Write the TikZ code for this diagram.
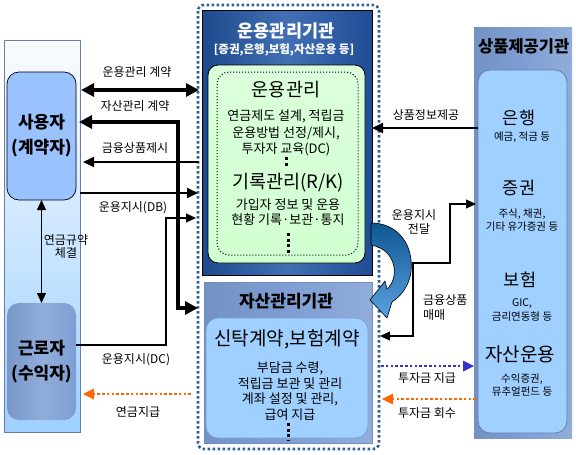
\documentclass[tikz,border=0pt]{standalone}
\usepackage{fontspec}
\setmainfont{Noto Sans CJK KR}
\usetikzlibrary{arrows.meta}
\newcommand\myfs[1]{\fontsize{#1}{#1}\selectfont}
\definecolor{dkblue}{HTML}{2256A6}
\definecolor{steel}{HTML}{7E9ED3}
\definecolor{ltblue}{HTML}{9FD0FF}
\definecolor{dotblue}{HTML}{2E5E9C}
\definecolor{orng}{HTML}{FF6600}
\definecolor{vblue}{HTML}{3333CC}
\definecolor{arrdark}{HTML}{0D5793}
\definecolor{arrlight}{HTML}{5AA2E0}
\begin{document}
\begin{tikzpicture}[x=1pt,y=-1pt,
  box/.style={inner sep=0pt, outer sep=0pt},
  lbl/.style={inner sep=0pt, font=\myfs{12}},
  small/.style={inner sep=0pt, font=\myfs{13}, align=center},
  tiny/.style={inner sep=0pt, font=\myfs{10.5}, align=center},
  bigarr/.style={line width=3.6pt, line join=miter, -{Triangle[length=13pt,width=13pt]}},
  bigboth/.style={line width=3.6pt, line join=miter, {Triangle[length=13pt,width=13pt]}-{Triangle[length=13pt,width=13pt]}},
  midarr/.style={line width=1.8pt, -{Triangle[length=11pt,width=10pt]}},
  thinarr/.style={line width=1.1pt, -{Triangle[length=10pt,width=9pt]}},
  thinboth/.style={line width=1.1pt, {Triangle[length=10pt,width=9pt]}-{Triangle[length=10pt,width=9pt]}},
  dotarr/.style={line width=2.6pt, dash pattern=on 2.6pt off 2.2pt, -{Triangle[length=11pt,width=11pt,line width=0pt]}},
  vdots/.style={line width=3pt, dash pattern=on 3pt off 2.5pt}
]
\useasboundingbox (0,0) rectangle (576,455);
\fill[white] (0,0) rectangle (576,455);

% ---------------- left column ----------------
\node[box, minimum width=76pt, minimum height=392pt, top color=ltblue!95!black!5, middle color=ltblue!25, bottom color=ltblue, draw=steel!80!black, line width=0.8pt] (leftpanel) at (42,236) {};
\node[box, minimum width=69pt, minimum height=128pt, rounded corners=12pt, fill=ltblue!90!blue!90, draw=black, line width=0.7pt, align=center, font=\bfseries\myfs{17}] (user) at (41.5,136) {사용자\\[8pt](계약자)};
\node[box, minimum width=69pt, minimum height=117pt, rounded corners=12pt, left color=steel!95!black, right color=steel, middle color=steel!85!white, align=center, font=\bfseries\myfs{17}] (worker) at (41.5,361.5) {근로자\\[8pt](수익자)};
\draw[thinboth] (user.south) -- (worker.north);
\node[lbl, align=center, font=\myfs{12}] (rule) at (66,247) {연금규약\\[1pt]체결};

% ---------------- centre ----------------
\draw[dotblue, line width=2.6pt, dash pattern=on 2.6pt off 2.4pt, rounded corners=6pt] (198,5) rectangle (379,449);
\node[box, minimum width=170pt, minimum height=265pt, left color=dkblue!85!black, right color=dkblue!90!black, middle color=dkblue!85!white, draw=black, line width=0.8pt] (mgmt) at (287,142.5) {};
\node[inner sep=0pt, text=white, font=\bfseries\myfs{17.5}] (mgmttitle) at (286,31) {운용관리기관};
\node[inner sep=0pt, text=white, font=\bfseries\myfs{11.5}] (mgmtsub) at (284,50) {[증권,은행,보험,자산운용 등]};
\node[box, minimum width=157pt, minimum height=198pt, rounded corners=10pt, top color=green!14, middle color=green!5, bottom color=green!18, draw=black, line width=0.9pt] (green) at (286.5,164) {};
\draw[black, line width=1pt, dotted, rounded corners=12pt] (217,72) rectangle (358,255);
\node[inner sep=0pt, font=\myfs{18.5}] (t1) at (286,90) {운용관리};
\node[small] (t2) at (286,133) {연금제도 설계, 적립금\\[2pt]운용방법 선정/제시,\\[2pt]투자자 교육(DC)};
\draw[vdots] (286,157) -- (286,168);
\node[inner sep=0pt, font=\myfs{18.5}] (t3) at (288,183) {기록관리(R/K)};
\node[small] (t4) at (288,212) {가입자 정보 및 운용\\[2pt]현황 기록·보관·통지};
\draw[vdots] (288,233) -- (288,254);

\node[box, minimum width=168pt, minimum height=161pt, left color=steel!92!black, right color=steel!85!white, middle color=steel, draw=steel!90!black, line width=0.6pt] (asset) at (288,362.5) {};
\node[inner sep=0pt, font=\bfseries\myfs{17}] (assettitle) at (286,301) {자산관리기관};
\node[box, minimum width=162pt, minimum height=120pt, rounded corners=12pt, top color=ltblue, middle color=white, bottom color=ltblue, draw=steel, line width=0.8pt] (assetin) at (287,378) {};
\node[inner sep=0pt, font=\myfs{19}] (s1) at (287,339) {신탁계약,보험계약};
\node[small] (s2) at (290,391) {부담금 수령,\\[2pt]적립금 보관 및 관리\\[2pt]계좌 설정 및 관리,\\[2pt]급여 지급};
\draw[vdots] (288,423) -- (288,440);

% ---------------- right column ----------------
\node[box, minimum width=98pt, minimum height=411pt, left color=steel!92!black, right color=steel!85!white, middle color=steel] (prov) at (523,232.5) {};
\node[anchor=west, inner sep=0pt, font=\bfseries\myfs{16.5}] (provtitle) at (478,46) {상품제공기관};
\node[box, minimum width=89pt, minimum height=363pt, rounded corners=12pt, top color=ltblue, middle color=white, bottom color=ltblue, draw=steel!80!black, line width=0.8pt] (provin) at (522.5,251.5) {};
\node[inner sep=0pt, font=\myfs{17.5}] (bank) at (519,118) {은행};
\node[tiny] (bankd) at (522,137) {예금, 적금 등};
\node[inner sep=0pt, font=\myfs{17.5}] (sec) at (519,188) {증권};
\node[tiny] (secd) at (522,220) {주식, 채권,\\[2pt]기타 유가증권 등};
\node[inner sep=0pt, font=\myfs{17.5}] (ins) at (520,280) {보험};
\node[tiny] (insd) at (522,310) {GIC,\\[2pt]금리연동형 등};
\node[inner sep=0pt, font=\myfs{19}] (am) at (520,354) {자산운용};
\node[tiny] (amd) at (522,385) {수익증권,\\[2pt]뮤추얼펀드 등};

% ---------------- connectors, left ----------------
\coordinate (c1a) at (81,90);   \coordinate (c1b) at (199,90);
\draw[bigboth] (c1a) -- (c1b);
\node[lbl] (l1) at (137,72) {운용관리 계약};

\coordinate (c2a) at (79,122);  \coordinate (c2b) at (198,308);
\draw[bigboth] (c2a) -- (178,122) -- (178,308) -- (c2b);
\node[lbl] (l2) at (135,106) {자산관리 계약};

\coordinate (c3a) at (199,162); \coordinate (c3b) at (83,162);
\draw[midarr] (c3a) -- (c3b);
\node[lbl] (l3) at (135,148) {금융상품제시};

\coordinate (c4a) at (80,193);  \coordinate (c4b) at (198,193);
\draw[midarr] (c4a) -- (c4b);
\node[lbl] (l4) at (133,208) {운용지시(DB)};

\coordinate (c5a) at (worker.east |- 0,345); \coordinate (c5b) at (196,218);
\draw[thinarr] (c5a) -- (166,345) -- (166,218) -- (c5b);
\node[lbl] (l5) at (136,360) {운용지시(DC)};

\coordinate (c6a) at (191,394); \coordinate (c6b) at (83,394);
\draw[dotarr, orng] (c6a) -- (c6b);
\node[lbl] (l6) at (138,412) {연금지급};

% ---------------- connectors, right ----------------
\coordinate (c7a) at (478,128); \coordinate (c7b) at (372,128);
\draw[midarr] (c7a) -- (c7b);
\node[lbl] (l7) at (426,115) {상품정보제공};

\coordinate (c8a) at (380,336); \coordinate (c8b) at (476,204);
\draw[thinboth] (c8a) -- (413,336) -- (413,263) -- (450,263) -- (450,204) -- (c8b);
\node[lbl, align=center] (l8) at (414,222) {운용지시\\[2pt]\hspace*{10pt}전달};
\node[lbl, align=left, anchor=west] (l9) at (423,308) {금융상품\\[3pt]매매};

\coordinate (c9a) at (381,366); \coordinate (c9b) at (474,366);
\draw[dotarr, vblue] (c9a) -- (c9b);
\node[lbl] (l10) at (427,378) {투자금 지급};

\coordinate (c10a) at (476,399); \coordinate (c10b) at (382,399);
\draw[dotarr, orng] (c10a) -- (c10b);
\node[lbl] (l11) at (427,413) {투자금 회수};

% ---------------- curved block arrow ----------------
\shadedraw[top color=arrdark, bottom color=arrlight, draw=black, line width=0.6pt]
  (371,223) .. controls (398,223) and (414,245) .. (411,272)
  .. controls (409,286) and (401,296) .. (392,302)
  -- (387,318) -- (370,300) -- (385,281) -- (387,289)
  .. controls (399,279) and (398,250) .. (371,245) -- cycle;
\end{tikzpicture}
\end{document}
